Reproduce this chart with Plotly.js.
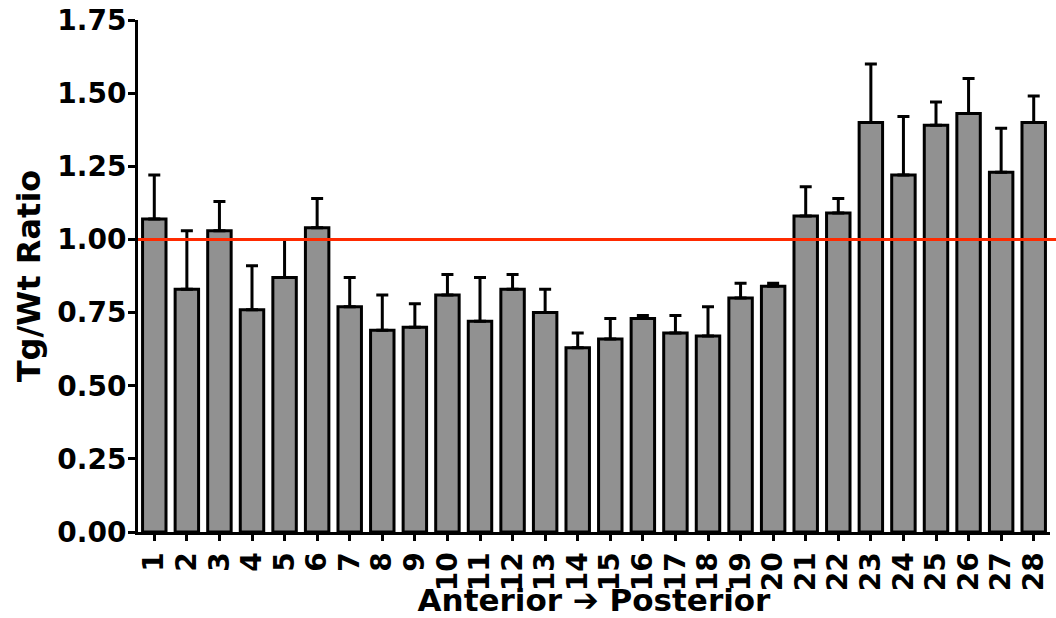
<!DOCTYPE html>
<html>
<head>
<meta charset="utf-8">
<script src="https://cdn.plot.ly/plotly-3.0.1.min.js"></script>
<style>html,body{margin:0;padding:0;background:#fff;}#chart{width:1056px;height:618px;}</style>
</head>
<body>
<div id="chart"></div>
<script>
const categories = ["1","2","3","4","5","6","7","8","9","10","11","12","13","14","15","16","17","18","19","20","21","22","23","24","25","26","27","28"];
const ratios = [1.07,0.83,1.03,0.76,0.87,1.04,0.77,0.69,0.70,0.81,0.72,0.83,0.75,0.63,0.66,0.73,0.68,0.67,0.80,0.84,1.08,1.09,1.40,1.22,1.39,1.43,1.23,1.40];
const errorTops = [1.22,1.03,1.13,0.91,1.00,1.14,0.87,0.81,0.78,0.88,0.87,0.88,0.83,0.68,0.73,0.74,0.74,0.77,0.85,0.85,1.18,1.14,1.60,1.42,1.47,1.55,1.38,1.49];
const yTicks = [0,0.25,0.5,0.75,1.0,1.25,1.5,1.75];
const referenceLevel = 1.0;

const errPlus = ratios.map((v,i)=>Math.max(0, +(errorTops[i]-v).toFixed(3)));
const xPos = categories.map((c,i)=>i+1);
const font = "DejaVu Sans, Liberation Sans, Arial, sans-serif";

const trace = {
  type: 'bar',
  x: xPos,
  y: ratios,
  width: 0.72,
  marker: {color: '#919191', line: {color: '#000', width: 3}},
  error_y: {type: 'data', array: errPlus, arrayminus: ratios.map(()=>0), symmetric: false, color: '#000', thickness: 3, width: 6},
  hoverinfo: 'skip'
};

const layout = {
  width: 1056, height: 618,
  margin: {l: 138, r: 6, t: 20, b: 86},
  paper_bgcolor: '#fff', plot_bgcolor: '#fff',
  showlegend: false,
  font: {family: font, color: '#000'},
  xaxis: {
    range: [0.5, 28.5],
    tickmode: 'array', tickvals: xPos, ticktext: categories,
    tickangle: -90,
    ticks: 'outside', ticklen: 6, tickwidth: 3, tickcolor: '#000',
    showline: true, linewidth: 3, linecolor: '#000',
    showgrid: false, zeroline: false,
    tickfont: {family: font, size: 28, color: '#000', weight: 'bold'},
    title: {text: '<b>Anterior ➔ Posterior</b>', font: {family: font, size: 31, color: '#000'}, standoff: 0}
  },
  yaxis: {
    range: [0, 1.75],
    tickmode: 'array', tickvals: yTicks, ticktext: yTicks.map(v=>v.toFixed(2)),
    ticks: 'outside', ticklen: 7, tickwidth: 3, tickcolor: '#000',
    ticklabelstandoff: -4,
    showline: true, linewidth: 3, linecolor: '#000',
    showgrid: false, zeroline: false,
    tickfont: {family: font, size: 28, color: '#000', weight: 'bold'},
    title: {text: '<b>Tg/Wt Ratio</b>', font: {family: font, size: 32, color: '#000'}, standoff: 8}
  },
  shapes: [{
    type: 'line', xref: 'paper', yref: 'y',
    x0: 0, x1: 1.007, y0: referenceLevel, y1: referenceLevel,
    line: {color: '#ff2a00', width: 3}, layer: 'above'
  }]
};

Plotly.newPlot('chart', [trace], layout, {staticPlot: true, displayModeBar: false});
</script>
</body>
</html>
